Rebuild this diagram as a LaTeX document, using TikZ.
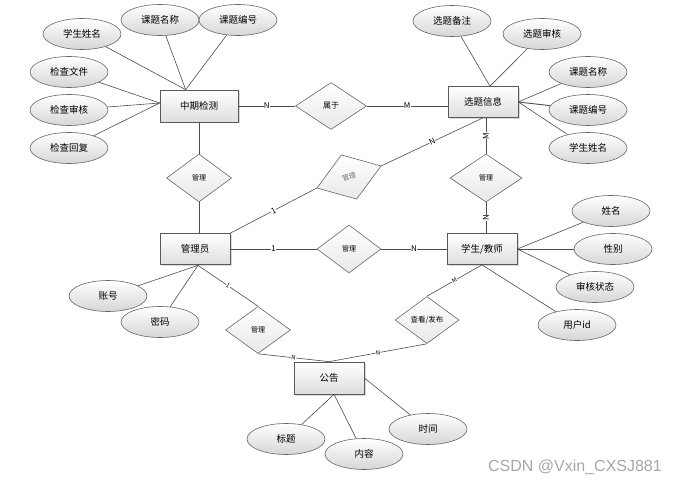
\documentclass[tikz,border=0pt]{standalone}
\usepackage{fontspec}
\setmainfont{Noto Sans CJK SC}
\newfontfamily\wmfont{Liberation Sans}
\usetikzlibrary{shapes.geometric,shadows,calc}

\begin{document}
\begin{tikzpicture}[x=1pt,y=-1pt,
  ent/.style={rectangle, draw=black!65, line width=0.7pt, top color=white, bottom color=black!13,
    minimum width=70pt, minimum height=31pt, inner sep=1pt, font=\fontsize{9.5}{11}\selectfont,
    drop shadow={shadow xshift=1.5pt, shadow yshift=-1.5pt, opacity=0.3}},
  attr/.style={ellipse, draw=black!60, line width=0.6pt, top color=white, bottom color=black!16,
    minimum width=78pt, minimum height=31pt, inner sep=0pt, font=\fontsize{9.5}{11}\selectfont},
  rel/.style={diamond, draw=black!60, line width=0.6pt, top color=white, bottom color=black!9,
    minimum width=65pt, minimum height=47pt, inner sep=0pt, font=\fontsize{7}{8}\selectfont},
  link/.style={draw=black!70, line width=0.6pt},
  card/.style={fill=white, inner sep=0.3pt, font=\fontsize{8}{9}\selectfont},
  scard/.style={card, sloped, font=\fontsize{6}{7}\selectfont},
]
\useasboundingbox (0,0) rectangle (678,484);

% entities
\node[ent, minimum width=78pt, minimum height=32pt] (zq) at (199,106) {中期检测};
\node[ent] (xt) at (483,102) {选题信息};
\node[ent] (gly) at (195,249) {管理员};
\node[ent] (xs) at (482,249) {学生/教师};
\node[ent, minimum height=32pt] (gg) at (329,378) {公告};

% relationships
\node[rel, minimum width=71pt, font=\fontsize{8}{9}\selectfont] (sy) at (331,106) {属于};
\node[rel, minimum height=48pt] (gl1) at (199,178) {管理};
\node[rel, minimum width=72pt, minimum height=48pt] (gl2) at (486,178) {管理};
\node[rel, rotate=19, minimum width=68pt, text=black!55] (gl3) at (349,177) {管理};
\node[rel, minimum width=64pt, minimum height=48pt] (gl4) at (349,249) {管理};
\node[rel] (gl5) at (258,330) {管理};
\node[rel, minimum width=64pt, font=\fontsize{7.5}{8}\selectfont] (ck) at (427,320) {查看/发布};

% attributes
\node[attr] (a1) at (82,34) {学生姓名};
\node[attr] (a2) at (160,20) {课题名称};
\node[attr] (a3) at (238,20) {课题编号};
\node[attr] (a4) at (69,72) {检查文件};
\node[attr] (a5) at (69,110) {检查审核};
\node[attr] (a6) at (69,148) {检查回复};
\node[attr] (b1) at (452,21) {选题备注};
\node[attr] (b2) at (542,34) {选题审核};
\node[attr] (b3) at (588,72) {课题名称};
\node[attr] (b4) at (588,110) {课题编号};
\node[attr] (b5) at (588,148) {学生姓名};
\node[attr] (c1) at (611,211) {姓名};
\node[attr] (c2) at (613,249) {性别};
\node[attr] (c3) at (595,287) {审核状态};
\node[attr] (c4) at (577,325) {用户id};
\node[attr] (d1) at (108,296) {账号};
\node[attr] (d2) at (160,322) {密码};
\node[attr] (e1) at (286,439) {标题};
\node[attr] (e2) at (364,454) {内容};
\node[attr] (e3) at (428,429) {时间};

% junction points
\coordinate (zqT) at ($(zq.north west)+(26,0)$);
\coordinate (zqL) at ($(zq.west)+(0,-3)$);
\coordinate (xtT) at ($(xt.north)+(7,0)$);
\coordinate (glyB) at ($(gly.south)+(3,0.5)$);
\coordinate (ggB) at ($(gg.south)+(5,0)$);

% attribute links
\draw[link] (a1) -- (zqT);
\draw[link] (a2) -- (zqT);
\draw[link] (a3) -- (zqT);
\draw[link] (a4) -- (zqL);
\draw[link] (a5) -- (zqL);
\draw[link] (a6) -- (zqL);
\draw[link] (b1) -- (xtT);
\draw[link] (b2) -- (xtT);
\draw[link] (b3) -- (xt.east);
\draw[link, line width=0.9pt] (b4) -- (xt.east);
\draw[link] (b5) -- (xt.east);
\draw[link] (c1) -- (xs.east);
\draw[link, line width=0.9pt] (c2) -- (xs.east);
\draw[link] (c3) -- (xs.east);
\draw[link] (c4) -- (xs.south);
\draw[link] (d1) -- (glyB);
\draw[link] (d2) -- (glyB);
\draw[link] (e1) -- (ggB);
\draw[link] (e2) -- (ggB);
\draw[link] (e3) -- (gg.east);

% relationship links
\draw[link] (zq.east) -- node[card]{N} (sy.west);
\draw[link] (sy.east) -- node[card]{M} (sy.east -| xt.west);
\draw[link] (zq.south) -- (gl1.north);
\draw[link] (gl1.south) -- (gl1.south |- gly.north);
\draw[link] (gly.north east) -- node[card, sloped]{1} (gl3.west);
\draw[link] (gl3.east) -- node[card, sloped]{N} (xt.south);
\draw[link] (xt.south -| gl2.north) -- node[card, rotate=90]{M} (gl2.north);
\draw[link] (gl2.south) -- node[card, rotate=90]{N} (gl2.south |- xs.north);
\draw[link] (gly.east) -- node[card]{1} (gl4.west);
\draw[link] (gl4.east) -- node[card]{N} (xs.west);
\draw[link] (xs.south) -- node[scard]{M} (ck.north);
\draw[link] (ck.south) -- node[scard]{N} (gg.north);
\draw[link] (gl5.south) -- node[scard]{N} (gg.north);
\draw[link] (glyB) -- node[scard]{1} (gl5.north);

% watermark
\node[font=\wmfont\fontsize{16}{18}\selectfont, text=black!35] (wm) at (575,467) {CSDN @Vxin\_CXSJ881};
\end{tikzpicture}
\end{document}
